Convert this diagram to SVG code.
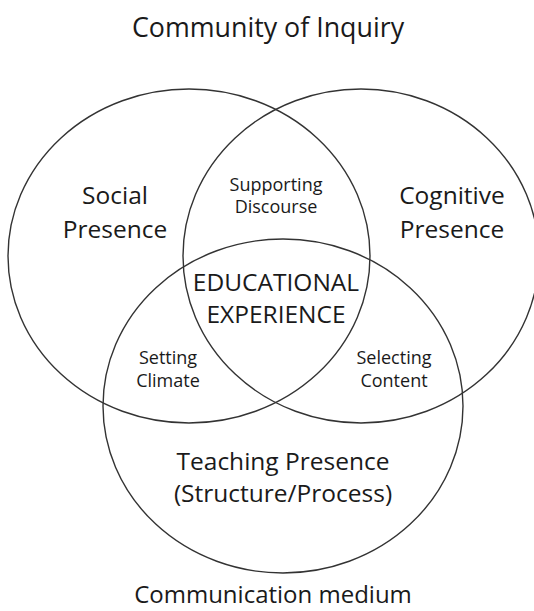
<svg xmlns="http://www.w3.org/2000/svg" width="534" height="611" viewBox="0 0 534 611">
<style>
.c{fill:none;stroke:#333;stroke-width:1.4}
text{font-family:"Open Sans","Liberation Sans",sans-serif;fill:#1a1a1a;text-anchor:middle}
.big{font-size:24.5px}
.sm{font-size:18px}
</style>
<rect width="534" height="611" fill="#fff"/>
<g id="social">
<ellipse class="c" cx="189" cy="256" rx="181" ry="167"/>
<text class="big" x="115" y="204">Social</text>
<text class="big" x="115" y="238">Presence</text>
</g>
<g id="cognitive">
<ellipse class="c" cx="361" cy="256" rx="178" ry="167"/>
<text class="big" x="452" y="204">Cognitive</text>
<text class="big" x="452" y="238">Presence</text>
</g>
<g id="teaching">
<ellipse class="c" cx="283" cy="406" rx="180" ry="167"/>
<text class="big" x="283" y="470">Teaching Presence</text>
<text class="big" x="283" y="502">(Structure/Process)</text>
</g>
<g id="supporting">
<text class="sm" x="276" y="191">Supporting</text>
<text class="sm" x="276" y="213">Discourse</text>
</g>
<g id="educational">
<text class="big" x="276" y="291">EDUCATIONAL</text>
<text class="big" x="276" y="323">EXPERIENCE</text>
</g>
<g id="setting">
<text class="sm" x="168" y="364">Setting</text>
<text class="sm" x="168" y="387">Climate</text>
</g>
<g id="selecting">
<text class="sm" x="394" y="364">Selecting</text>
<text class="sm" x="394" y="387">Content</text>
</g>
<g id="title">
<text style="font-size:26.8px" x="268" y="37">Community of Inquiry</text>
</g>
<g id="medium">
<text style="font-size:24px" x="273" y="603">Communication medium</text>
</g>
<g id="connectors"></g>
</svg>
